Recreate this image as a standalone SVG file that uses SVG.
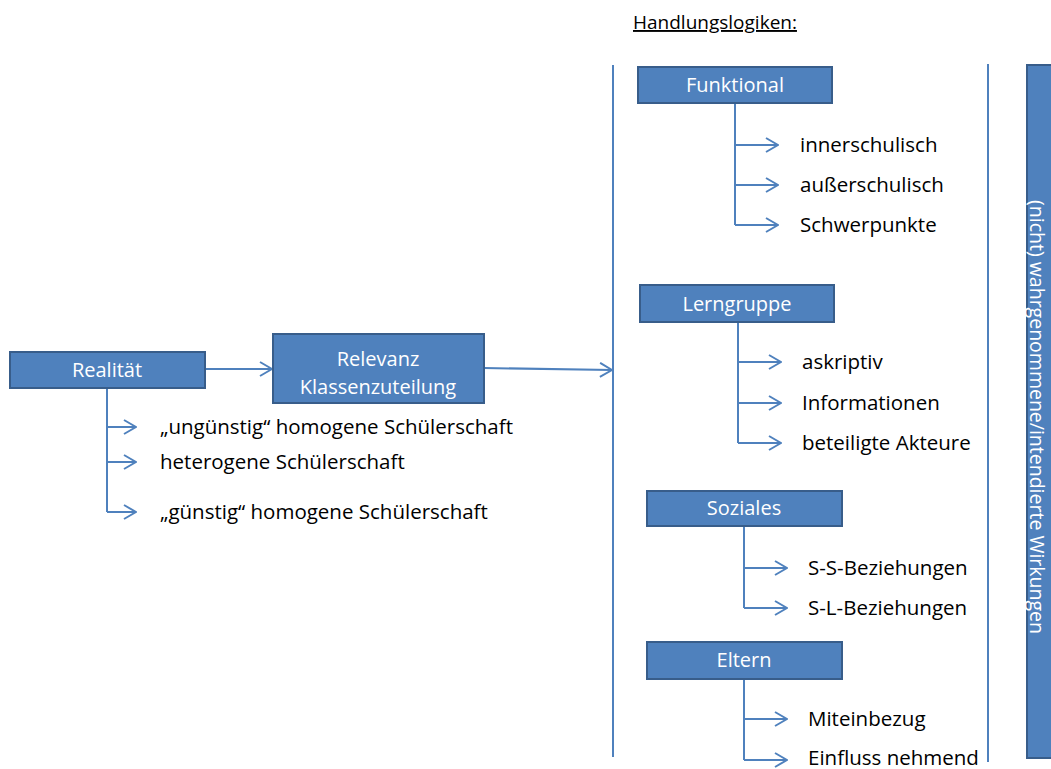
<svg xmlns="http://www.w3.org/2000/svg" width="1051" height="769" viewBox="0 0 1051 769">
<defs>
<marker id="arr" viewBox="0 0 14 16" refX="13" refY="8" markerWidth="14" markerHeight="16" markerUnits="userSpaceOnUse" orient="auto">
<path d="M1,1 L13,8 L1,15" fill="none" stroke="#4F81BD" stroke-width="2"/>
</marker>
<style>
.box{fill:#4F81BD;stroke:#385D8A;stroke-width:2}
.bt{font-family:"Open Sans","Liberation Sans",sans-serif;font-size:20px;fill:#fff;text-anchor:middle}
.lt{font-family:"Open Sans","Liberation Sans",sans-serif;font-size:20.5px;fill:#000}
.ln{fill:none;stroke:#4F81BD;stroke-width:2}
</style>
</defs>
<rect width="1051" height="769" fill="#fff"/>
<text x="633" y="29" class="lt" style="font-size:19px" text-decoration="underline">Handlungslogiken:</text>
<g id="connectors">
<path class="ln" d="M205,369 H272" marker-end="url(#arr)"/>
<path class="ln" d="M484,368 L612,370" marker-end="url(#arr)"/>
<path class="ln" d="M107,388 V512"/>
<path class="ln" d="M107,427 H136" marker-end="url(#arr)"/>
<path class="ln" d="M107,462 H136" marker-end="url(#arr)"/>
<path class="ln" d="M107,512 H136" marker-end="url(#arr)"/>
<path class="ln" d="M613,65 V757"/>
<path class="ln" d="M988,64 V762"/>
<path class="ln" d="M735,103 V225"/>
<path class="ln" d="M735,145 H778" marker-end="url(#arr)"/>
<path class="ln" d="M735,185 H778" marker-end="url(#arr)"/>
<path class="ln" d="M735,225 H778" marker-end="url(#arr)"/>
<path class="ln" d="M738,322 V443"/>
<path class="ln" d="M738,362 H781" marker-end="url(#arr)"/>
<path class="ln" d="M738,403 H781" marker-end="url(#arr)"/>
<path class="ln" d="M738,443 H781" marker-end="url(#arr)"/>
<path class="ln" d="M744,526 V608"/>
<path class="ln" d="M744,568 H787" marker-end="url(#arr)"/>
<path class="ln" d="M744,608 H787" marker-end="url(#arr)"/>
<path class="ln" d="M744,679 V760"/>
<path class="ln" d="M744,719 H787" marker-end="url(#arr)"/>
<path class="ln" d="M744,760 H787" marker-end="url(#arr)"/>
</g>
<g id="realitaet">
<rect class="box" x="10" y="352" width="195" height="36"/>
<text class="bt" x="107" y="377">Realität</text>
</g>
<g id="relevanz">
<rect class="box" x="273" y="334" width="211" height="69"/>
<text class="bt" x="378" y="366">Relevanz</text>
<text class="bt" x="378" y="394">Klassenzuteilung</text>
</g>
<g id="realitaet-items">
<text class="lt" x="160" y="434">„ungünstig“ homogene Schülerschaft</text>
<text class="lt" x="160" y="469">heterogene Schülerschaft</text>
<text class="lt" x="160" y="519">„günstig“ homogene Schülerschaft</text>
</g>
<g id="funktional">
<rect class="box" x="638" y="67" width="194" height="36"/>
<text class="bt" x="735" y="92">Funktional</text>
<text class="lt" x="800" y="152">innerschulisch</text>
<text class="lt" x="800" y="192">außerschulisch</text>
<text class="lt" x="800" y="232">Schwerpunkte</text>
</g>
<g id="lerngruppe">
<rect class="box" x="640" y="285" width="194" height="37"/>
<text class="bt" x="737" y="311">Lerngruppe</text>
<text class="lt" x="802" y="369">askriptiv</text>
<text class="lt" x="802" y="410">Informationen</text>
<text class="lt" x="802" y="450">beteiligte Akteure</text>
</g>
<g id="soziales">
<rect class="box" x="647" y="491" width="195" height="35"/>
<text class="bt" x="744" y="515">Soziales</text>
<text class="lt" x="808" y="575">S-S-Beziehungen</text>
<text class="lt" x="808" y="615">S-L-Beziehungen</text>
</g>
<g id="eltern">
<rect class="box" x="647" y="642" width="195" height="37"/>
<text class="bt" x="744" y="667">Eltern</text>
<text class="lt" x="808" y="726">Miteinbezug</text>
<text class="lt" x="808" y="765">Einfluss nehmend</text>
</g>
<g id="wirkungen">
<rect class="box" x="1027" y="65" width="30" height="693"/>
<text class="bt" style="font-size:19.5px" transform="translate(1030,417) rotate(90)" x="0" y="0">(nicht) wahrgenommene/intendierte Wirkungen</text>
</g>
</svg>
